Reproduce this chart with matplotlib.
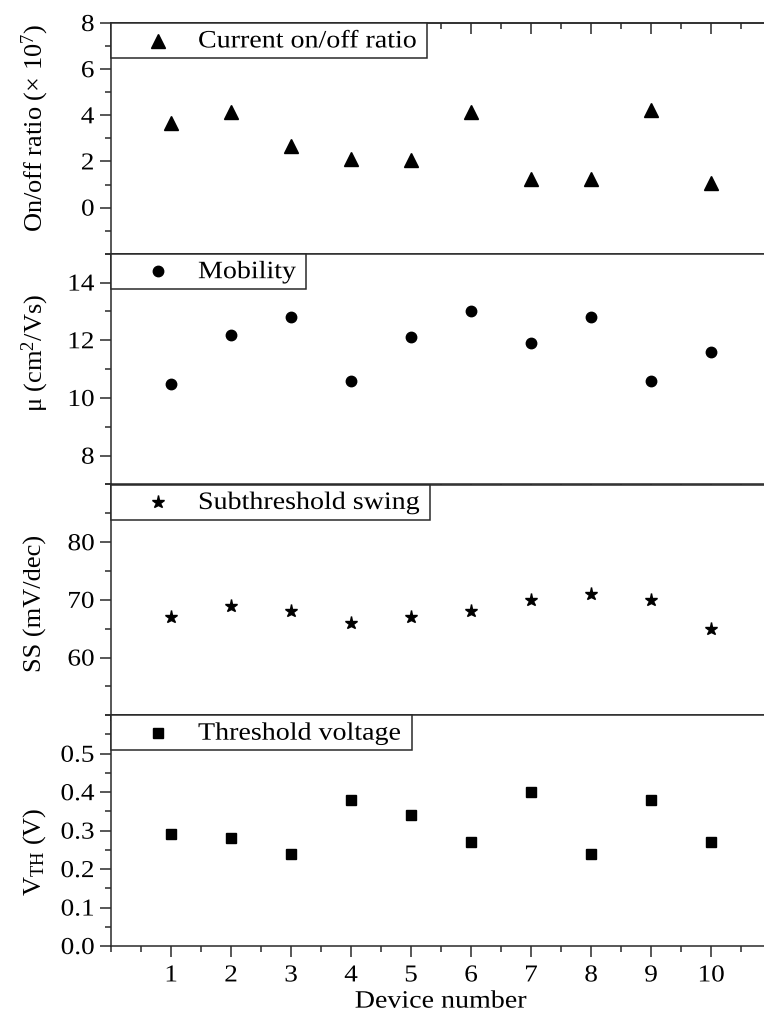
import matplotlib
matplotlib.use('Agg')
import matplotlib.pyplot as plt
from matplotlib.ticker import MultipleLocator, FormatStrFormatter
from matplotlib.patches import Rectangle
from matplotlib.patheffects import AbstractPathEffect
from matplotlib.transforms import Affine2D

plt.rcParams['font.family'] = ['Liberation Serif', 'DejaVu Serif']
plt.rcParams['mathtext.fontset'] = 'custom'
plt.rcParams['mathtext.rm'] = 'Liberation Serif'
plt.rcParams['mathtext.it'] = 'Liberation Serif:italic'
plt.rcParams['mathtext.default'] = 'regular'

devices = [1, 2, 3, 4, 5, 6, 7, 8, 9, 10]
on_off = [3.65, 4.15, 2.65, 2.1, 2.05, 4.15, 1.25, 1.25, 4.25, 1.05]
mobility = [10.5, 12.2, 12.8, 10.6, 12.1, 13.0, 11.9, 12.8, 10.6, 11.6]
swing = [67, 69, 68, 66, 67, 68, 70, 71, 70, 65]
vth = [0.29, 0.28, 0.24, 0.38, 0.34, 0.27, 0.40, 0.24, 0.38, 0.27]

names = ['Current on/off ratio', 'Mobility', 'Subthreshold swing', 'Threshold voltage']
ylabels = [r'On/off ratio (× 10$^{7}$)', r'μ (cm$^{2}$/Vs)', 'SS (mV/dec)', r'V$_{TH}$ (V)']
yticks = [[0, 2, 4, 6, 8], [8, 10, 12, 14], [60, 70, 80], [0, 0.1, 0.2, 0.3, 0.4, 0.5]]
ylims = [(-2, 8), (7, 15), (50, 90), (0, 0.6)]
yminor = [1, 1, 5, 0.05]
markers = [('^', 9.5), ('o', 7.5), ('*', 9.5), ('s', 7.5)]
values = [on_off, mobility, swing, vth]
ylabel_y = [128, 353, 603, 852]


class StretchX(AbstractPathEffect):
    # the reference text is a bit wider than Times; widen glyphs horizontally
    def __init__(self, sx, anchor):
        super().__init__()
        self.sx = sx
        self.anchor = anchor

    def draw_path(self, renderer, gc, tpath, affine, rgbFace=None):
        w = tpath.get_extents().x1
        t = Affine2D().scale(self.sx, 1).translate(-(self.sx - 1) * w * self.anchor, 0)
        renderer.draw_path(gc, tpath, t + affine, rgbFace)


SX = 1.12
fs = 17.5
W, H = 764, 1019
fig = plt.figure(figsize=(W / 100, H / 100), dpi=100)
left, right = 111 / W, 771 / W
top, bottom = 1 - 23 / H, 1 - 946 / H
ph = (top - bottom) / 4
ax_w, ax_h = 660, (946 - 23) / 4
spine_c = '#2a2a2a'
legend_texts = []

for i in range(4):
    ax = fig.add_axes([left, top - (i + 1) * ph, right - left, ph])
    mk, ms = markers[i]
    ax.plot(devices, values[i], linestyle='none', marker=mk, markersize=ms, color='black')
    ax.set_xlim(0, 11)
    ax.set_ylim(*ylims[i])
    ax.set_xticks(devices)
    ax.xaxis.set_minor_locator(MultipleLocator(0.5))
    ax.set_yticks(yticks[i])
    ax.yaxis.set_minor_locator(MultipleLocator(yminor[i]))
    if i == 3:
        ax.yaxis.set_major_formatter(FormatStrFormatter('%.1f'))
    ax.tick_params(axis='both', which='major', length=8, width=1.1,
                   color=spine_c, labelsize=fs, pad=4, direction='out')
    ax.tick_params(axis='both', which='minor', length=4.5, width=1.1,
                   color=spine_c, direction='out')
    if i < 3:
        ax.tick_params(axis='x', labelbottom=False)
    else:
        ax.tick_params(axis='x', pad=6)
        xl = ax.set_xlabel('Device number', fontsize=18, labelpad=3)
        xl.set_path_effects([StretchX(SX, 0.5)])
    for t in ax.xaxis.get_major_ticks():
        t.label1.set_path_effects([StretchX(SX, 0.5)])
    for t in ax.yaxis.get_major_ticks():
        t.label1.set_path_effects([StretchX(SX, 1.0)])
    for s in ax.spines.values():
        s.set_color(spine_c)
        s.set_linewidth(1.1)
    if i == 0:
        sec = ax.secondary_xaxis('top')
        sec.set_xticks(devices)
        sec.xaxis.set_minor_locator(MultipleLocator(0.5))
        sec.tick_params(which='major', direction='in', length=8, width=1.1,
                        color=spine_c, labeltop=False)
        sec.tick_params(which='minor', direction='in', length=4.5, width=1.1,
                        color=spine_c)
        sec.spines['top'].set_color(spine_c)
        sec.spines['top'].set_linewidth(1.1)

    # legend box in the upper left corner
    box_h = 35 / ax_h
    ax.plot([47 / ax_w], [1 - box_h / 2], marker=mk, markersize=ms, color='black',
            transform=ax.transAxes, clip_on=False, zorder=5)
    txt = ax.text(87 / ax_w, 1 - box_h / 2 - 0.004, names[i], fontsize=18,
                  ha='left', va='center', transform=ax.transAxes, zorder=5)
    txt.set_path_effects([StretchX(SX, 0.0)])
    rect = Rectangle((0, 1 - box_h), 0.3, box_h, transform=ax.transAxes,
                     facecolor='white', edgecolor=spine_c, linewidth=1.1,
                     clip_on=False, zorder=4)
    ax.add_patch(rect)
    legend_texts.append((txt, rect))

    fig.text(35 / W, 1 - ylabel_y[i] / H, ylabels[i], rotation=90, ha='center',
             va='center', fontsize=19)

fig.canvas.draw()
r = fig.canvas.get_renderer()
for txt, rect in legend_texts:
    wpx = txt.get_window_extent(r).width * SX
    rect.set_width((87 + wpx + 10) / ax_w)

fig.savefig('out.png', dpi=100)
